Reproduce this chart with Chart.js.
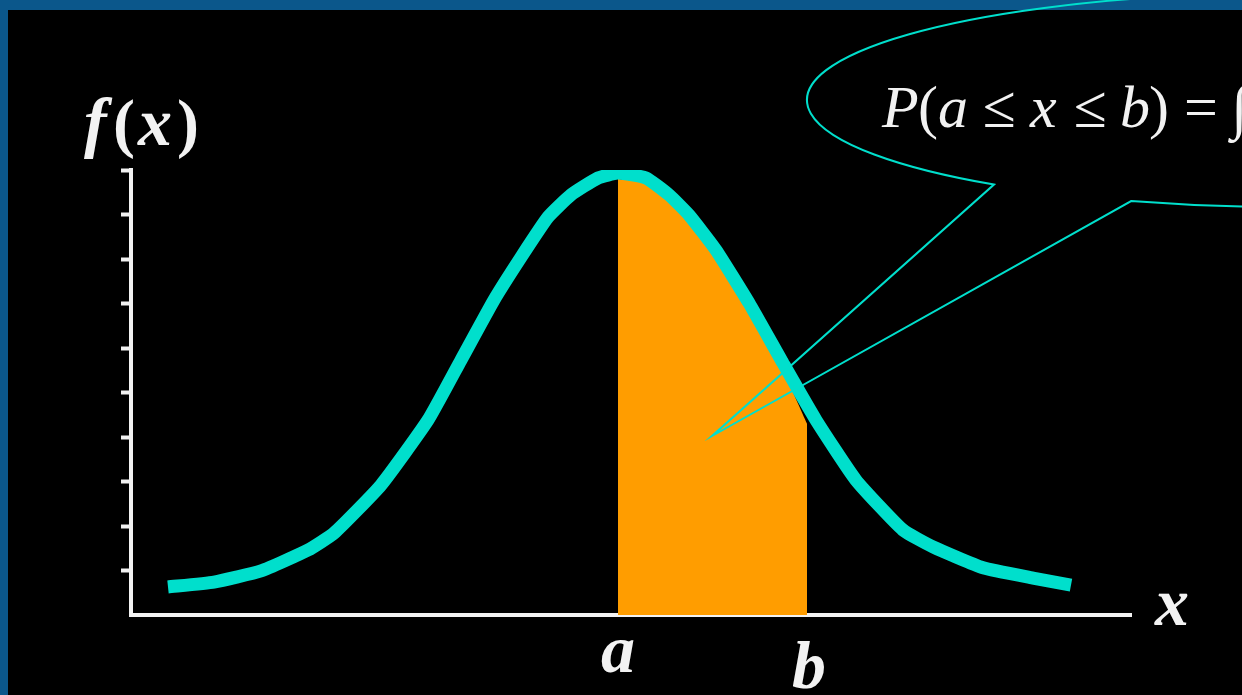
<!DOCTYPE html>
<html>
<head>
<meta charset="utf-8">
<script src="https://cdn.jsdelivr.net/npm/chart.js@4.4.1/dist/chart.umd.min.js"></script>
<style>
html, body { margin: 0; padding: 0; background: #000; overflow: hidden; }
canvas { display: block; }
</style>
</head>
<body>
<canvas id="pdfChart" width="1242" height="695"></canvas>
<script>
// bell curve f(x)
const curveX = [0.37, 0.83, 1.30, 1.77, 2.03, 2.50, 2.97, 3.30, 3.63, 3.90, 4.17, 4.40, 4.67, 4.87,
                5.15, 5.38, 5.58, 5.85, 6.18, 6.52, 6.85, 7.25, 7.72, 8.02, 8.52, 9.02, 9.40];
const curveY = [0.63, 0.74, 0.99, 1.46, 1.84, 2.92, 4.38, 5.73, 7.08, 8.04, 8.94, 9.44, 9.82, 9.93,
                9.82, 9.44, 8.99, 8.20, 7.01, 5.66, 4.38, 3.03, 1.91, 1.53, 1.06, 0.83, 0.67];

// shaded area between a and b
const areaX = [4.87, 5.15, 5.38, 5.58, 5.85, 6.18, 6.52, 6.76];
const areaY = [9.80, 9.72, 9.34, 8.88, 8.08, 6.88, 5.50, 4.30];

const aValue = 4.87;
const bValue = 6.76;
const yTicks = [1, 2, 3, 4, 5, 6, 7, 8, 9, 10];

const cyan = '#00DFCC';
const orange = '#FF9D00';
const white = '#F2F2F2';

function toPoints(xs, ys) {
    const out = [];
    for (let i = 0; i < xs.length; ++i) {
        out.push({x: xs[i], y: ys[i]});
    }
    return out;
}

const frame = {
    id: 'frame',
    beforeDraw(chart) {
        const ctx = chart.ctx;
        ctx.save();
        ctx.fillStyle = '#0B578B';
        ctx.fillRect(0, 0, chart.width, chart.height);
        ctx.fillStyle = '#000';
        ctx.fillRect(8, 10, chart.width - 8, chart.height - 10);
        ctx.restore();
    }
};

function drawPieces(ctx, parts, base) {
    for (const p of parts) {
        ctx.font = p[1];
        ctx.fillText(p[0], p[2], base);
    }
}

const labels = {
    id: 'labels',
    afterDraw(chart) {
        const ctx = chart.ctx;
        const xs = chart.scales.x;
        ctx.save();
        ctx.fillStyle = white;
        ctx.textBaseline = 'alphabetic';

        // axis names
        const bi = 'bold italic 68px "Liberation Serif"';
        const bu = 'bold 66px "Liberation Serif"';
        ctx.textAlign = 'left';
        drawPieces(ctx, [['f', bi, 84], ['(', bu, 113], ['x', bi, 138], [')', bu, 177]], 145);
        ctx.font = bi;
        ctx.fillText('x', 1155, 625);
        ctx.textAlign = 'center';
        ctx.fillText('a', xs.getPixelForValue(aValue), 672);
        ctx.fillText('b', xs.getPixelForValue(bValue) + 2, 688);

        // callout bubble
        ctx.strokeStyle = cyan;
        ctx.lineWidth = 2;
        ctx.beginPath();
        ctx.ellipse(1290, 100, 483, 107, 0, 127.8 * Math.PI / 180, 109.2 * Math.PI / 180);
        ctx.lineTo(712, 436);
        ctx.closePath();
        ctx.stroke();

        // P(a <= x <= b) = integral
        const it = 'italic 60px "Liberation Serif"';
        const up = '60px "Liberation Serif"';
        ctx.textAlign = 'left';
        drawPieces(ctx, [
            ['P', it, 882], ['(', up, 918], ['a', it, 938], ['\u2264', up, 983],
            ['x', it, 1030], ['\u2264', up, 1074], ['b', it, 1120], [')', up, 1149],
            ['=', up, 1184], ['\u222B', up, 1231]
        ], 127);
        ctx.restore();
    }
};

const data = {
    datasets: [{
        label: 'f(x)',
        data: toPoints(curveX, curveY),
        borderColor: cyan,
        borderWidth: 13,
        borderCapStyle: 'butt',
        borderJoinStyle: 'round',
        pointRadius: 0,
        tension: 0.15,
        fill: false,
        order: 0
    }, {
        label: 'P(a<=x<=b)',
        data: toPoints(areaX, areaY),
        borderWidth: 0,
        borderColor: orange,
        backgroundColor: orange,
        pointRadius: 0,
        tension: 0.15,
        fill: 'origin',
        order: 1
    }]
};

const config = {
    type: 'line',
    data,
    options: {
        responsive: false,
        animation: false,
        devicePixelRatio: 1,
        layout: {
            padding: {left: 0, top: 170, right: 111, bottom: 0}
        },
        plugins: {
            legend: {display: false},
            tooltip: {enabled: false}
        },
        scales: {
            x: {
                type: 'linear',
                min: 0,
                max: 10,
                ticks: {display: false, stepSize: 1},
                grid: {display: false, drawTicks: false},
                border: {display: true, color: white, width: 4},
                afterFit(scale) { scale.height = 80; }
            },
            y: {
                type: 'linear',
                min: 0,
                max: 10,
                afterBuildTicks(scale) {
                    scale.ticks = [0].concat(yTicks).map(v => ({value: v}));
                },
                ticks: {display: false},
                grid: {
                    display: true,
                    drawOnChartArea: false,
                    drawTicks: true,
                    tickLength: 10,
                    tickWidth: 4,
                    tickColor: ctx => (ctx.tick && ctx.tick.value === 0) ? 'rgba(0,0,0,0)' : white
                },
                border: {display: true, color: white, width: 4},
                afterFit(scale) { scale.width = 131; }
            }
        }
    },
    plugins: [frame, labels]
};

const pdfChart = new Chart(document.getElementById('pdfChart'), config);
</script>
</body>
</html>
